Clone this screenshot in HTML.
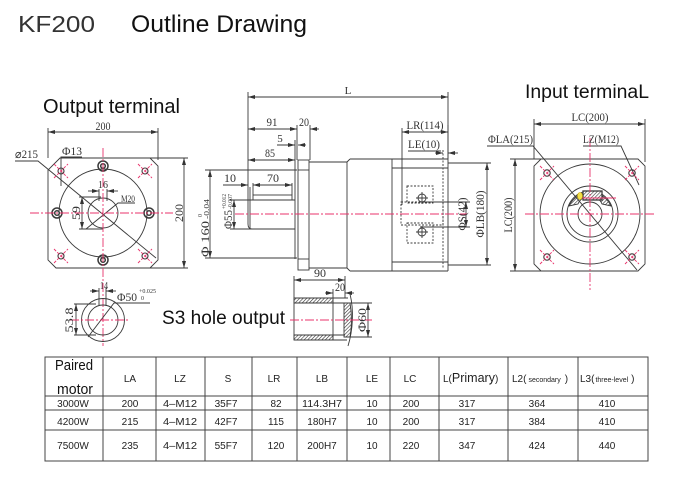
<!DOCTYPE html>
<html><head><meta charset="utf-8"><style>
html,body{margin:0;padding:0;background:#fff;width:677px;height:491px;overflow:hidden}
svg{display:block}
.ln{fill:none;stroke:#3a3a3a;stroke-width:0.9}
.rd{fill:none;stroke:#e8336b;stroke-width:0.9;stroke-dasharray:9 2 2 2}
.rx{fill:none;stroke:#e8336b;stroke-width:0.9;stroke-dasharray:3 1.5}
.dt{font-family:"Liberation Serif",serif;font-size:12px;fill:#333}
.tb{font-family:"Liberation Sans",sans-serif;font-size:10px;fill:#222}
.hd{font-family:"Liberation Sans",sans-serif;fill:#111}
</style></head><body>
<svg width="677" height="491" viewBox="0 0 677 491" xmlns="http://www.w3.org/2000/svg">
<defs>
<marker id="a" viewBox="0 0 7 4" refX="7" refY="2" markerWidth="7" markerHeight="4" markerUnits="userSpaceOnUse" orient="auto-start-reverse"><path d="M0,0 L7,2 L0,4z" fill="#333"/></marker>
<pattern id="h" width="2.5" height="2.5" patternUnits="userSpaceOnUse" patternTransform="rotate(45)"><rect width="2.5" height="2.5" fill="#fff"/><line x1="0" y1="0" x2="0" y2="2.5" stroke="#333" stroke-width="1.2"/></pattern>
</defs>

<!-- Titles -->
<text x="18" y="32" class="hd" font-size="23" textLength="77" lengthAdjust="spacingAndGlyphs" style="fill:#333">KF200</text>
<text x="131" y="32" class="hd" font-size="24" textLength="176" lengthAdjust="spacingAndGlyphs">Outline Drawing</text>
<text x="43" y="113" class="hd" font-size="20" textLength="137" lengthAdjust="spacingAndGlyphs">Output terminal</text>
<text x="525" y="98" class="hd" font-size="19" textLength="124" lengthAdjust="spacingAndGlyphs">Input terminaL</text>
<text x="162" y="324" class="hd" font-size="19" textLength="123" lengthAdjust="spacingAndGlyphs">S3 hole output</text>

<!-- ============ LEFT VIEW ============ -->
<g class="ln">
<path d="M60,158H150L158,166V260L150,268H56L48,260V170Z"/>
<circle cx="103" cy="213" r="44"/>
<circle cx="103" cy="213" r="15"/>
<line x1="48" y1="128" x2="48" y2="158"/>
<line x1="158" y1="128" x2="158" y2="160"/>
<line x1="48" y1="132" x2="158" y2="132" marker-start="url(#a)" marker-end="url(#a)"/>
<line x1="150" y1="158" x2="188" y2="158"/>
<line x1="150" y1="268" x2="188" y2="268"/>
<line x1="184" y1="158" x2="184" y2="268" marker-start="url(#a)" marker-end="url(#a)"/>
<polyline points="15,161 38,161 156,258"/>
<polyline points="82,157 61,157 61,186"/>
<line x1="99" y1="189" x2="99" y2="201"/>
<line x1="107" y1="189" x2="107" y2="201"/>
<line x1="88" y1="191" x2="99" y2="191" marker-end="url(#a)"/>
<line x1="107" y1="191" x2="118" y2="191" marker-start="url(#a)"/>
<line x1="79" y1="197" x2="101" y2="197"/>
<line x1="79" y1="229" x2="103" y2="229"/>
<line x1="82" y1="197" x2="82" y2="229" marker-start="url(#a)" marker-end="url(#a)"/>
<polyline points="135,203 118,203 86,229"/>
</g>
<g class="ln" style="stroke-width:1.5">
<circle cx="103" cy="166" r="5"/><circle cx="103" cy="166" r="2.3"/>
<circle cx="103" cy="260" r="5"/><circle cx="103" cy="260" r="2.3"/>
<circle cx="57" cy="213" r="5"/><circle cx="57" cy="213" r="2.3"/>
<circle cx="149" cy="213" r="5"/><circle cx="149" cy="213" r="2.3"/>
</g>
<g class="ln" style="stroke-width:1.1">
<circle cx="61" cy="171" r="3"/><circle cx="145" cy="171" r="3"/>
<circle cx="61" cy="256" r="3"/><circle cx="145" cy="256" r="3"/>
</g>
<g class="rx">
<path d="M54,164L68,178M54,178L68,164"/>
<path d="M138,164L152,178M138,178L152,164"/>
<path d="M54,249L68,263M54,263L68,249"/>
<path d="M138,249L152,263M138,263L152,249"/>
</g>
<g class="rd">
<line x1="30" y1="213" x2="173" y2="213"/>
<line x1="103" y1="148" x2="103" y2="346"/>
</g>
<g class="dt">
<text x="103" y="130" text-anchor="middle" textLength="15" lengthAdjust="spacingAndGlyphs">200</text>
<text transform="translate(183,213) rotate(-90)" text-anchor="middle" textLength="18" lengthAdjust="spacingAndGlyphs">200</text>
<text x="15" y="158" textLength="23" lengthAdjust="spacingAndGlyphs">⌀215</text>
<text x="62" y="155" textLength="20" lengthAdjust="spacingAndGlyphs">Φ13</text>
<text x="103" y="188" text-anchor="middle" font-size="11" textLength="10" lengthAdjust="spacingAndGlyphs">16</text>
<text transform="translate(80,213) rotate(-90)" text-anchor="middle" textLength="14" lengthAdjust="spacingAndGlyphs">59</text>
<text x="121" y="202" font-size="9" textLength="14" lengthAdjust="spacingAndGlyphs">M20</text>
</g>

<!-- key section -->
<g class="ln">
<circle cx="103" cy="320" r="21.5"/>
<circle cx="103" cy="320" r="15"/>
<line x1="99" y1="288" x2="99" y2="306"/>
<line x1="106" y1="288" x2="106" y2="306"/>
<line x1="90" y1="291" x2="99" y2="291" marker-end="url(#a)"/>
<line x1="106" y1="291" x2="116" y2="291" marker-start="url(#a)"/>
<polyline points="150,303 114,303 88,337"/>
<line x1="74" y1="304" x2="96" y2="304"/>
<line x1="74" y1="335" x2="96" y2="335"/>
<line x1="76" y1="304" x2="76" y2="335" marker-start="url(#a)" marker-end="url(#a)"/>
</g>
<line class="rd" x1="70" y1="320" x2="130" y2="320"/>
<g class="dt">
<text x="104" y="289" text-anchor="middle" font-size="11" textLength="8" lengthAdjust="spacingAndGlyphs">14</text>
<text x="117" y="301" textLength="20" lengthAdjust="spacingAndGlyphs">Φ50</text>
<text x="139" y="293" font-size="6" textLength="17" lengthAdjust="spacingAndGlyphs">+0.025</text>
<text x="141" y="300" font-size="6">0</text>
<text transform="translate(73,320) rotate(-90)" text-anchor="middle" textLength="25" lengthAdjust="spacingAndGlyphs">53.8</text>
</g>

<!-- S3 section -->
<g class="ln">
<rect x="294" y="298" width="39" height="5" fill="url(#h)"/>
<rect x="294" y="335" width="39" height="5" fill="url(#h)"/>
<path d="M344,303 L350,303 Q353,320 350,337 L344,337 Z" fill="url(#h)"/>
<line x1="294" y1="298" x2="348" y2="298"/>
<line x1="294" y1="340" x2="347" y2="340"/>
<line x1="294" y1="298" x2="294" y2="340"/>
<line x1="333" y1="289" x2="333" y2="340"/>
<line x1="294" y1="303" x2="350" y2="303"/>
<line x1="294" y1="335" x2="345" y2="335"/>
<path d="M350,294 C354,310 353,330 348,346"/>
<line x1="294" y1="276" x2="294" y2="298"/>
<line x1="345" y1="276" x2="345" y2="298"/>
<line x1="294" y1="280" x2="345" y2="280" marker-start="url(#a)" marker-end="url(#a)"/>
<line x1="325" y1="293" x2="333" y2="293" marker-end="url(#a)"/>
<line x1="345" y1="293" x2="354" y2="293" marker-start="url(#a)"/>
<line x1="350" y1="303" x2="372" y2="303"/>
<line x1="350" y1="337" x2="372" y2="337"/>
<line x1="368" y1="303" x2="368" y2="337" marker-start="url(#a)" marker-end="url(#a)"/>
</g>
<line class="rd" x1="290" y1="320" x2="372" y2="320"/>
<g class="dt">
<text x="320" y="277" text-anchor="middle" textLength="12" lengthAdjust="spacingAndGlyphs">90</text>
<text x="340" y="291" text-anchor="middle" textLength="10" lengthAdjust="spacingAndGlyphs">20</text>
<text transform="translate(366,320) rotate(-90)" text-anchor="middle" textLength="24" lengthAdjust="spacingAndGlyphs">Φ60</text>
</g>

<!-- ============ MIDDLE VIEW ============ -->
<g class="ln">
<line x1="248" y1="97" x2="448" y2="97" marker-start="url(#a)" marker-end="url(#a)"/>
<line x1="248" y1="92" x2="248" y2="200"/>
<line x1="448" y1="92" x2="448" y2="159"/>
<line x1="248" y1="129" x2="297" y2="129" marker-start="url(#a)" marker-end="url(#a)"/>
<line x1="310" y1="129" x2="319" y2="129" marker-start="url(#a)"/>
<line x1="297" y1="125" x2="297" y2="160"/>
<line x1="310" y1="125" x2="310" y2="160"/>
<line x1="277" y1="145" x2="295" y2="145" marker-end="url(#a)"/>
<line x1="298" y1="145" x2="306" y2="145" marker-start="url(#a)"/>
<line x1="248" y1="160" x2="295" y2="160" marker-start="url(#a)" marker-end="url(#a)"/>
<line x1="295" y1="140" x2="295" y2="259"/>
<line x1="205" y1="170" x2="297" y2="170"/>
<line x1="205" y1="258" x2="297" y2="258"/>
<line x1="210" y1="170" x2="210" y2="258" marker-start="url(#a)" marker-end="url(#a)"/>
<!-- shaft -->
<line x1="230" y1="200" x2="295" y2="200"/>
<line x1="230" y1="229" x2="295" y2="229"/>
<path d="M248,200 V224 Q248,229 252,229"/>
<line x1="250" y1="187" x2="250" y2="229"/>
<rect x="253" y="195" width="39" height="5"/>
<line x1="253" y1="183" x2="253" y2="195"/>
<line x1="292" y1="183" x2="292" y2="195"/>
<line x1="223" y1="185" x2="248" y2="185" marker-end="url(#a)"/>
<line x1="253" y1="185" x2="292" y2="185" marker-start="url(#a)" marker-end="url(#a)"/>
<line x1="234" y1="200" x2="234" y2="229" marker-start="url(#a)" marker-end="url(#a)"/>
<!-- flange -->
<rect x="298" y="160" width="11" height="110"/>
<line x1="298" y1="170" x2="309" y2="170"/>
<line x1="298" y1="259" x2="309" y2="259"/>
<!-- neck -->
<line x1="309" y1="162" x2="347" y2="162"/>
<line x1="309" y1="268" x2="347" y2="268"/>
<line x1="347" y1="162" x2="347" y2="268"/>
<line x1="347" y1="162" x2="350" y2="159"/>
<line x1="347" y1="268" x2="350" y2="271"/>
<!-- body -->
<line x1="350" y1="159" x2="448" y2="159"/>
<line x1="350" y1="271" x2="448" y2="271"/>
<line x1="392" y1="159" x2="392" y2="271"/>
<line x1="448" y1="159" x2="448" y2="271"/>
<line x1="392" y1="168" x2="448" y2="168"/>
<line x1="392" y1="262" x2="448" y2="262"/>
<line x1="443" y1="150" x2="443" y2="268" stroke-dasharray="2 1.5"/>
<g stroke-dasharray="2 1.5">
<rect x="407" y="186" width="26" height="17"/>
<rect x="407" y="223" width="26" height="20"/>
<rect x="401" y="202" width="42" height="23"/>
</g>
<circle cx="422" cy="198" r="4"/>
<circle cx="422" cy="232" r="4"/>
<path d="M416,198H428M422,192V204M416,232H428M422,226V238"/>
<line x1="420" y1="202" x2="470" y2="202"/>
<line x1="420" y1="227" x2="470" y2="227"/>
<line x1="466" y1="202" x2="466" y2="227" marker-start="url(#a)" marker-end="url(#a)"/>
<line x1="448" y1="163" x2="491" y2="163"/>
<line x1="448" y1="265" x2="491" y2="265"/>
<line x1="487" y1="163" x2="487" y2="265" marker-start="url(#a)" marker-end="url(#a)"/>
<line x1="402" y1="132" x2="448" y2="132" marker-start="url(#a)" marker-end="url(#a)"/>
<line x1="402" y1="128" x2="402" y2="205"/>
<line x1="448" y1="125" x2="448" y2="159"/>
<line x1="408" y1="151" x2="441" y2="151"/>
<line x1="435" y1="153" x2="443" y2="153" marker-end="url(#a)"/>
<line x1="448" y1="153" x2="458" y2="153" marker-start="url(#a)"/>
</g>
<line class="rd" x1="235" y1="214" x2="467" y2="214"/>
<g class="dt">
<text x="348" y="94" text-anchor="middle" font-size="11">L</text>
<text x="272" y="126" text-anchor="middle" textLength="11" lengthAdjust="spacingAndGlyphs">91</text>
<text x="304" y="126" text-anchor="middle" textLength="10" lengthAdjust="spacingAndGlyphs">20</text>
<text x="280" y="142" text-anchor="middle" font-size="11">5</text>
<text x="270" y="157" text-anchor="middle" textLength="10" lengthAdjust="spacingAndGlyphs">85</text>
<text x="230" y="182" text-anchor="middle" textLength="12" lengthAdjust="spacingAndGlyphs">10</text>
<text x="273" y="182" text-anchor="middle" textLength="12" lengthAdjust="spacingAndGlyphs">70</text>
<g transform="translate(209,257) rotate(-90)">
<text x="0" y="0" textLength="36" lengthAdjust="spacingAndGlyphs">Φ 160</text>
<text x="38" y="0" font-size="7" textLength="20" lengthAdjust="spacingAndGlyphs">-0.04</text>
<text x="40" y="-7" font-size="6">0</text>
</g>
<g transform="translate(232,229) rotate(-90)">
<text x="0" y="0" textLength="19" lengthAdjust="spacingAndGlyphs">Φ55</text>
<text x="20" y="-6" font-size="6" textLength="15" lengthAdjust="spacingAndGlyphs">+0.012</text>
<text x="20" y="0" font-size="6" textLength="15" lengthAdjust="spacingAndGlyphs">-0.007</text>
</g>
<text x="425" y="129" text-anchor="middle" textLength="37" lengthAdjust="spacingAndGlyphs">LR(114)</text>
<text x="408" y="148" textLength="32" lengthAdjust="spacingAndGlyphs">LE(10)</text>
<text transform="translate(466,214) rotate(-90)" text-anchor="middle" textLength="33" lengthAdjust="spacingAndGlyphs">ΦS(42)</text>
<text transform="translate(484,214) rotate(-90)" text-anchor="middle" textLength="47" lengthAdjust="spacingAndGlyphs">ΦLB(180)</text>
</g>

<!-- ============ RIGHT VIEW ============ -->
<g class="ln">
<path d="M541,159H638L645,166V264L638,271H541L534,264V166Z"/>
<circle cx="590" cy="214" r="50"/>
<circle cx="590" cy="214" r="28"/>
<circle cx="590" cy="214" r="23"/>
<circle cx="590" cy="214" r="12"/>
<path d="M569,206 A23,23 0 0 1 611,206 L602,204 A13,13 0 0 0 578,204 Z" fill="url(#h)"/>
<rect x="583" y="191" width="19" height="9" fill="url(#h)" style="stroke-width:1.3"/>
<line x1="534" y1="119" x2="534" y2="159"/>
<line x1="645" y1="119" x2="645" y2="162"/>
<line x1="534" y1="124" x2="645" y2="124" marker-start="url(#a)" marker-end="url(#a)"/>
<line x1="510" y1="159" x2="541" y2="159"/>
<line x1="510" y1="271" x2="541" y2="271"/>
<line x1="515" y1="159" x2="515" y2="271" marker-start="url(#a)" marker-end="url(#a)"/>
<polyline points="487,146 533,146 637,270"/>
<polyline points="583,146 621,146 639,185"/>
</g>
<ellipse cx="580" cy="196" rx="2.5" ry="3.5" fill="#f3e04a" stroke="#c9a800" stroke-width="0.6"/>
<line x1="582" y1="198" x2="616" y2="198" stroke="#e8336b" stroke-width="0.9"/>
<g class="ln" style="stroke-width:1.1">
<circle cx="547" cy="173" r="3.2"/><circle cx="632" cy="173" r="3.2"/>
<circle cx="547" cy="257" r="3.2"/><circle cx="632" cy="257" r="3.2"/>
</g>
<g class="rx">
<path d="M540,166L554,180M540,180L554,166"/>
<path d="M625,166L639,180M625,180L639,166"/>
<path d="M540,250L554,264M540,264L554,250"/>
<path d="M625,250L639,264M625,264L639,250"/>
</g>
<g class="rd">
<line x1="525" y1="214" x2="655" y2="214"/>
<line x1="590" y1="138" x2="590" y2="290"/>
</g>
<g class="dt">
<text x="590" y="121" text-anchor="middle" textLength="37" lengthAdjust="spacingAndGlyphs">LC(200)</text>
<text x="488" y="143" textLength="45" lengthAdjust="spacingAndGlyphs">ΦLA(215)</text>
<text x="583" y="143" textLength="36" lengthAdjust="spacingAndGlyphs">LZ(M12)</text>
<text transform="translate(512,215) rotate(-90)" text-anchor="middle" textLength="35" lengthAdjust="spacingAndGlyphs">LC(200)</text>
</g>

<!-- ============ TABLE ============ -->
<g stroke="#444" stroke-width="1" fill="none">
<rect x="45" y="357" width="603" height="104"/>
<line x1="45" y1="396" x2="648" y2="396"/>
<line x1="45" y1="410" x2="648" y2="410"/>
<line x1="45" y1="430" x2="648" y2="430"/>
<line x1="103" y1="357" x2="103" y2="461"/>
<line x1="156" y1="357" x2="156" y2="461"/>
<line x1="205" y1="357" x2="205" y2="461"/>
<line x1="252" y1="357" x2="252" y2="461"/>
<line x1="297" y1="357" x2="297" y2="461"/>
<line x1="347" y1="357" x2="347" y2="461"/>
<line x1="390" y1="357" x2="390" y2="461"/>
<line x1="439" y1="357" x2="439" y2="461"/>
<line x1="508" y1="357" x2="508" y2="461"/>
<line x1="578" y1="357" x2="578" y2="461"/>
</g>
<text x="55" y="370" class="hd" font-size="15" textLength="38" lengthAdjust="spacingAndGlyphs">Paired</text>
<text x="57" y="394" class="hd" font-size="15" textLength="36" lengthAdjust="spacingAndGlyphs">motor</text>
<g class="tb" text-anchor="middle">
<text x="130" y="382">LA</text>
<text x="180" y="382">LZ</text>
<text x="228" y="382">S</text>
<text x="274" y="382">LR</text>
<text x="322" y="382">LB</text>
<text x="372" y="382">LE</text>
<text x="410" y="382">LC</text>
</g>
<text x="443" y="382" class="tb">L(<tspan font-size="12.5">Primary</tspan><tspan>)</tspan></text>
<text x="512" y="382" class="tb">L2(<tspan font-size="7" dx="2">secondary</tspan><tspan dx="4">)</tspan></text>
<text x="580" y="382" class="tb">L3(<tspan font-size="7" dx="1">three-level</tspan><tspan dx="3">)</tspan></text>

<g class="tb" text-anchor="middle">
<text x="73" y="407">3000W</text>
<text x="130" y="407">200</text>
<text x="180" y="407" textLength="34" lengthAdjust="spacingAndGlyphs">4–M12</text>
<text x="226" y="407">35F7</text>
<text x="276" y="407">82</text>
<text x="322" y="407" textLength="40" lengthAdjust="spacingAndGlyphs">114.3H7</text>
<text x="372" y="407">10</text>
<text x="411" y="407">200</text>
<text x="467" y="407">317</text>
<text x="537" y="407">364</text>
<text x="607" y="407">410</text>

<text x="73" y="425">4200W</text>
<text x="130" y="425">215</text>
<text x="180" y="425" textLength="34" lengthAdjust="spacingAndGlyphs">4–M12</text>
<text x="226" y="425">42F7</text>
<text x="276" y="425">115</text>
<text x="322" y="425">180H7</text>
<text x="372" y="425">10</text>
<text x="411" y="425">200</text>
<text x="467" y="425">317</text>
<text x="537" y="425">384</text>
<text x="607" y="425">410</text>

<text x="73" y="449">7500W</text>
<text x="130" y="449">235</text>
<text x="180" y="449" textLength="34" lengthAdjust="spacingAndGlyphs">4–M12</text>
<text x="226" y="449">55F7</text>
<text x="276" y="449">120</text>
<text x="322" y="449">200H7</text>
<text x="372" y="449">10</text>
<text x="411" y="449">220</text>
<text x="467" y="449">347</text>
<text x="537" y="449">424</text>
<text x="607" y="449">440</text>
</g>
</svg>
</body></html>
